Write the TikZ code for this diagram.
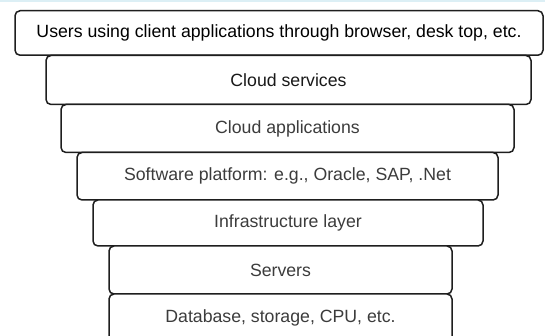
\documentclass[tikz,border=0pt]{standalone}
\usepackage{fontspec}
\setmainfont{Liberation Sans}
\definecolor{band}{HTML}{DCEFF5}
\definecolor{edge}{HTML}{1E1E1E}
\definecolor{txtgray}{HTML}{3C3C3C}
\begin{document}
\begin{tikzpicture}[x=1pt,y=1pt,
  layer/.style={draw=edge, line width=1.5pt, rounded corners=5pt, fill=white,
    inner sep=0pt, text=txtgray, font=\fontsize{17.7}{20}\selectfont},
]
\useasboundingbox (0,0) rectangle (545,336);
\clip (0,0) rectangle (545,336);
\fill[band] (0,333.5) rectangle (545,336);
% y = 336 - y_img
\node[layer, minimum width=528, minimum height=44.5, text=black] (l1) at (279,303) {Users using client applications through browser, desk top, etc.};
\node[layer, minimum width=485, minimum height=49, text=black!90] (l2) at (288.5,256) {Cloud services};
\node[layer, minimum width=453, minimum height=48] (l3) at (287.5,207.5) {Cloud applications};
\node[layer, minimum width=421, minimum height=47.5] (l4) at (287.5,159.75) {Software platform: e.g., Oracle, SAP, .Net};
\node[layer, minimum width=390, minimum height=46] (l5) at (288,113) {Infrastructure layer};
\node[layer, minimum width=343, minimum height=48] (l6) at (280.5,66) {Servers};
\node[layer, minimum width=343, minimum height=48] (l7) at (280.5,18) {Database, storage, CPU, etc.};
\end{tikzpicture}
\end{document}
